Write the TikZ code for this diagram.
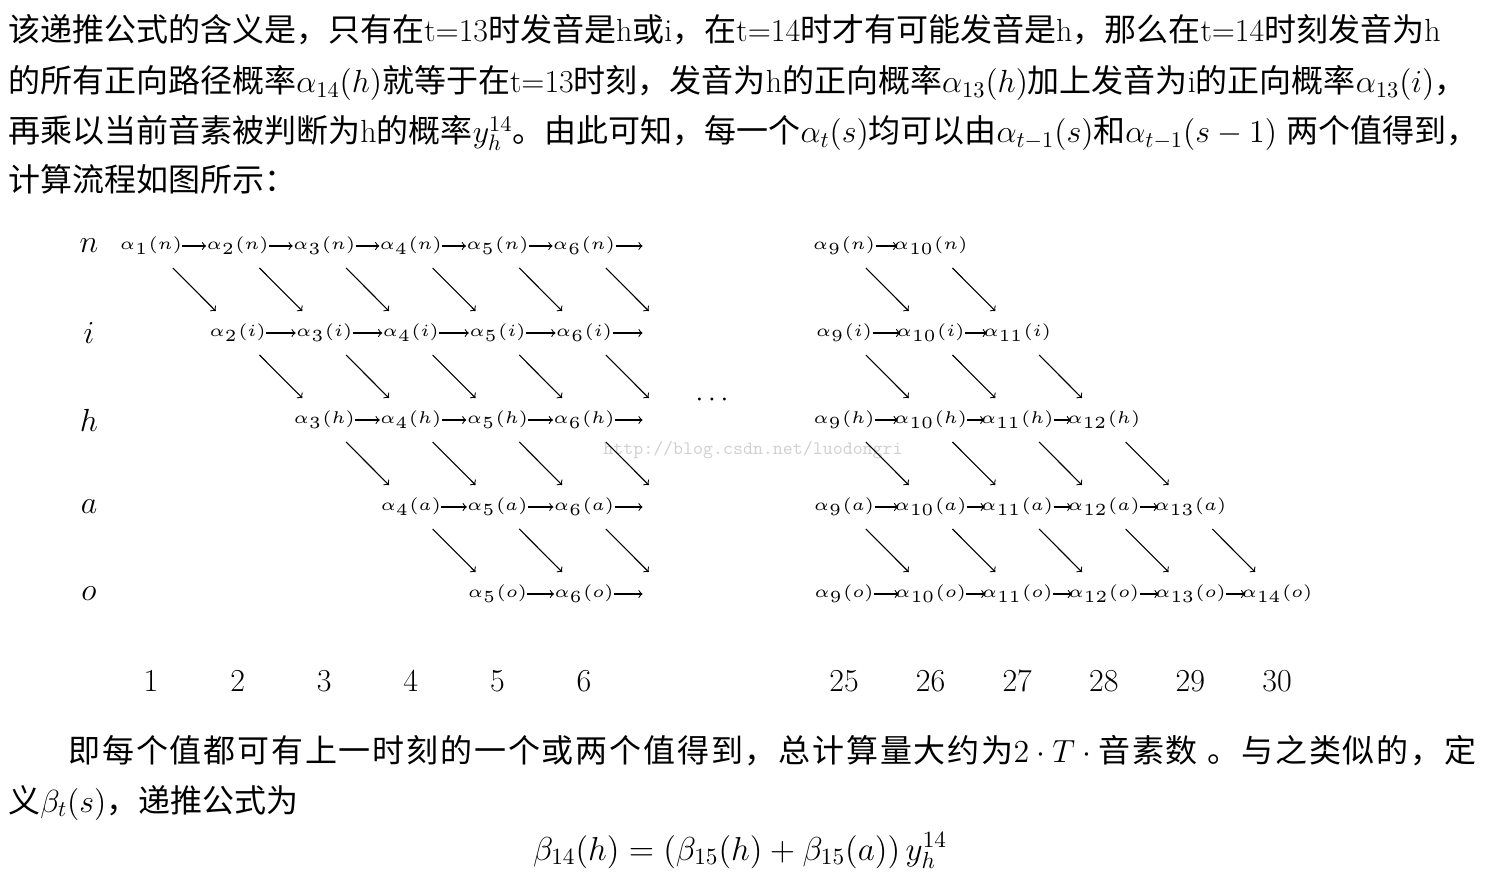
\documentclass[tikz,border=0pt]{standalone}
\usepackage{fix-cm}
\usepackage{fontspec}
\usepackage{graphicx}
\newfontfamily\cjk{Noto Sans CJK SC}
\newfontfamily\cjklargo[LetterSpace=5.7]{Noto Sans CJK SC}
\usetikzlibrary{calc}

\newcommand{\alf}[2]{\scalebox{1.7}{\fontsize{5}{6}\selectfont$\alpha_{#1}(#2)$}}

\tikzset{
  texto/.style={anchor=base west, inner sep=0pt, font=\fontsize{16}{19}\selectfont},
  rotulo/.style={inner sep=0pt, font=\fontsize{16}{19}\selectfont},
  valor/.style={inner sep=0pt},
  seta/.style={->, >=to, line width=0.55pt},
  diag/.style={seta, shorten <=15.5pt, shorten >=15.5pt},
}

\begin{document}
\begin{tikzpicture}[x=0.5pt, y=-0.5pt]
    \useasboundingbox (0,0) rectangle (1487,881);

    % texto de cima
    \node[texto] (L1) at (8,42) {{\cjk 该递推公式的含义是，只有在}t=13{\cjk 时发音是}h{\cjk 或}i{\cjk ，在}t=14{\cjk 时才有可能发音是}h{\cjk ，那么在}t=14{\cjk 时刻发音为}h};
    \node[texto] (L2) at (8,93) {{\cjk 的所有正向路径概率}$\alpha_{14}(h)${\cjk 就等于在}t=13{\cjk 时刻，发音为}h{\cjk 的正向概率}$\alpha_{13}(h)${\cjk 加上发音为}i{\cjk 的正向概率}$\alpha_{13}(i)${\cjk ，}};
    \node[texto] (L3) at (8,143) {{\cjk 再乘以当前音素被判断为}h{\cjk 的概率}$y_h^{14}${\cjk 。由此可知，每一个}$\alpha_t(s)${\cjk 均可以由}$\alpha_{t-1}(s)${\cjk 和}$\alpha_{t-1}(s-1)$ {\cjk 两个值得到，}};
    \node[texto] (L4) at (8,192) {{\cjk 计算流程如图所示：}};

    % marca de agua
    \node[inner sep=0pt, font=\ttfamily\fontsize{9.5}{10}\selectfont, text=black!18] (W) at (753,450) {http://blog.csdn.net/luodongri};

    % estados e tempos
    \foreach \nm/\s/\r in {N/n/0, I/i/1, H/h/2, A/a/3, O/o/4}
        \node[rotulo] (E\nm) at (89,{246+87*\r}) {$\s$};
    \foreach \t in {1,...,6}
        \node[rotulo] (T\t) at ({151+86.6*(\t-1)},681) {\t};
    \foreach \t in {25,...,30}
        \node[rotulo] (T\t) at ({844+86.6*(\t-25)},681) {\t};
    \node[inner sep=0pt, font=\fontsize{14}{16}\selectfont] (D) at (712,400) {$\cdots$};

    % valores alpha, esquerda
    \foreach \nm/\s/\r/\k in {N/n/0/1, I/i/1/2, H/h/2/3, A/a/3/4, O/o/4/5} {
        \foreach \t in {\k,...,6}
            \node[valor] (\nm\t) at ({151+86.6*(\t-1)},{246+87*\r}) {\alf{\t}{\s}};
        \coordinate (\nm7) at ({151+86.6*6},{246+87*\r});
    }

    % valores alpha, direita
    \foreach \nm/\s/\r in {N/n/0, I/i/1, H/h/2, A/a/3, O/o/4} {
        \pgfmathtruncatemacro{\fim}{10+\r}
        \foreach \t in {9,...,\fim}
            \node[valor] (\nm\t) at ({844+86.6*(\t-9)},{246+87*\r}) {\alf{\t}{\s}};
    }

    % setas horizontais
    \foreach \nm/\k in {N/1, I/2, H/3, A/4, O/5} {
        \foreach \t [evaluate=\t as \u using int(\t+1)] in {\k,...,5}
            \draw[seta] (\nm\t.east) -- (\nm\u.west);
        \draw[seta, shorten >=14pt] (\nm6.east) -- (\nm7);
    }
    \foreach \nm/\r in {N/0, I/1, H/2, A/3, O/4} {
        \pgfmathtruncatemacro{\fim}{9+\r}
        \foreach \t [evaluate=\t as \u using int(\t+1)] in {9,...,\fim}
            \draw[seta, shorten >=-2pt] (\nm\t.east) -- (\nm\u.west);
    }

    % setas diagonais
    \foreach \nm/\px/\k in {N/I/1, I/H/2, H/A/3, A/O/4} {
        \foreach \t [evaluate=\t as \u using int(\t+1)] in {\k,...,6}
            \draw[diag] (\nm\t.center) -- (\px\u.center);
    }
    \foreach \nm/\px/\r in {N/I/0, I/H/1, H/A/2, A/O/3} {
        \pgfmathtruncatemacro{\fim}{10+\r}
        \foreach \t [evaluate=\t as \u using int(\t+1)] in {9,...,\fim}
            \draw[diag] (\nm\t.center) -- (\px\u.center);
    }

    % texto de baixo
    \node[texto] (L5) at (68,762) {{\cjklargo 即每个值都可有上一时刻的一个或两个值得到，总计算量大约为}$2\cdot T\cdot{}${\cjklargo 音素数} {\cjklargo 。与之类似的，定}};
    \node[texto] (L6) at (8,812) {{\cjk 义}$\beta_t(s)${\cjk ，递推公式为}};
    \node[inner sep=0pt, font=\fontsize{16.6}{19}\selectfont, anchor=base] (EQ) at (740,860) {$\beta_{14}(h)=(\beta_{15}(h)+\beta_{15}(a))\,y_h^{14}$};
\end{tikzpicture}
\end{document}
